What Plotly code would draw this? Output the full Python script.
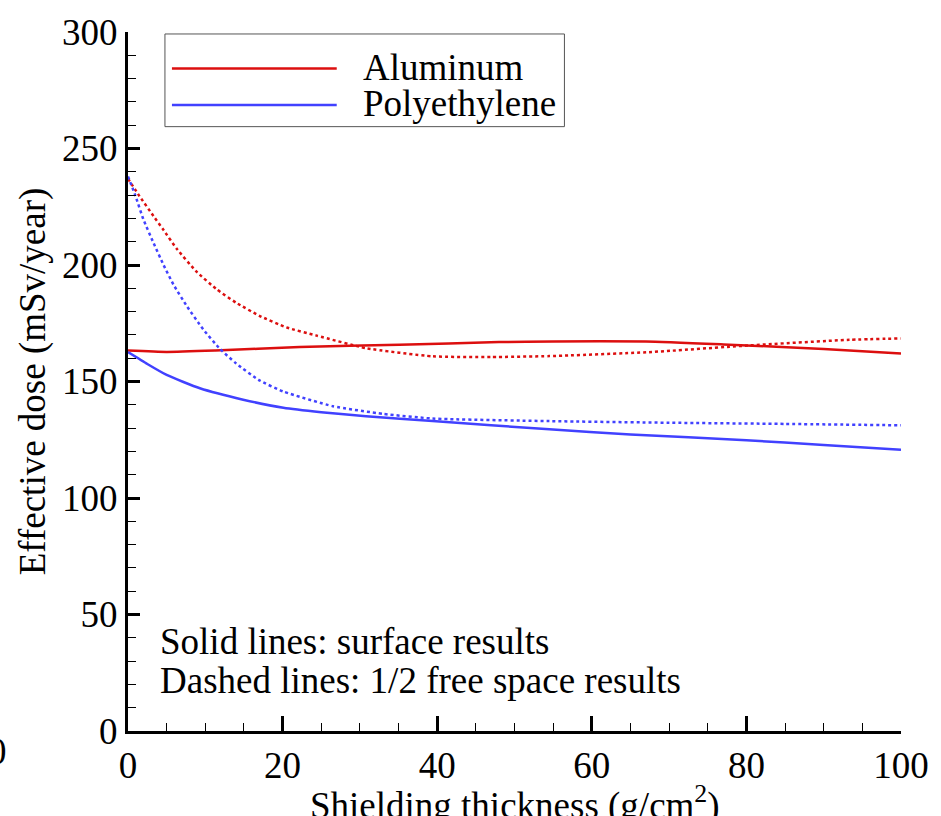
import plotly.graph_objects as go

# ---- data ----
al_surf_x = [0, 5, 11.3, 22.2, 35.1, 48, 55, 67, 77.8, 90, 100]
al_surf_y = [163.3, 162.7, 163.3, 164.8, 165.8, 166.9, 167.2, 167.2, 165.8, 164.0, 162.0]

al_fs_x = [0, 1.5, 3.3, 4.6, 6.3, 8.9, 11.5, 14, 17, 20.5, 24.4, 30.8, 39.4, 47, 54.5, 67.4, 80.4, 93.3, 100]
al_fs_y = [237, 229.5, 221, 215, 207, 197, 189.5, 183.8, 178.2, 173.2, 169.7, 164.3, 160.8, 160.5, 160.9, 162.6, 165.5, 167.9, 168.5]

pe_surf_x = [0, 2.5, 5, 9.3, 14.9, 20.1, 25, 30.8, 39.4, 54.5, 65, 80, 90, 100]
pe_surf_y = [162.6, 157.5, 152.8, 147.1, 142.2, 138.7, 136.8, 135.1, 133.0, 129.5, 127.3, 124.8, 122.8, 120.7]

pe_fs_x = [0, 0.9, 2, 3.3, 4.6, 5.9, 7.6, 9.7, 11.9, 14, 17, 20.1, 26.5, 33, 39.4, 54.5, 70, 85, 100]
pe_fs_y = [238, 230.3, 219.5, 209.5, 200, 191.5, 182.4, 172.5, 164, 157.7, 150.5, 145.7, 139.4, 136.1, 134.1, 133.0, 132.3, 131.8, 131.2]

legend_names = ["Aluminum", "Polyethylene"]
note_lines = ["Solid lines: surface results", "Dashed lines: 1/2 free space results"]

RED = "rgb(220,15,15)"
BLUE = "rgb(65,65,255)"
FONT = "Liberation Serif"

W, H = 941, 816
L, R, T, B = 128, 39, 22, 85
PW, PH = W - L - R, H - T - B

def px(x):
    return (x - L) / PW

def py(y):
    return (H - B - y) / PH

fig = go.Figure()
fig.add_trace(go.Scatter(x=al_surf_x, y=al_surf_y, mode="lines", name=legend_names[0],
                         line=dict(color=RED, width=2.5, shape="spline", smoothing=0.5), showlegend=False))
fig.add_trace(go.Scatter(x=pe_surf_x, y=pe_surf_y, mode="lines", name=legend_names[1],
                         line=dict(color=BLUE, width=2.5, shape="spline", smoothing=0.5), showlegend=False))
fig.add_trace(go.Scatter(x=al_fs_x, y=al_fs_y, mode="lines", name=legend_names[0] + " (1/2 free space)",
                         line=dict(color=RED, width=2.5, dash="3px,3px", shape="spline", smoothing=0.5), showlegend=False))
fig.add_trace(go.Scatter(x=pe_fs_x, y=pe_fs_y, mode="lines", name=legend_names[1] + " (1/2 free space)",
                         line=dict(color=BLUE, width=2.5, dash="3px,3px", shape="spline", smoothing=0.5), showlegend=False))

shapes = [
    # legend box
    dict(type="rect", xref="paper", yref="paper", x0=px(165), x1=px(565), y0=py(118), y1=py(24),
         line=dict(color="#555", width=1), fillcolor="white", layer="above"),
    dict(type="line", xref="paper", yref="paper", x0=px(172), x1=px(337), y0=py(59), y1=py(59),
         line=dict(color=RED, width=2.5), layer="above"),
    dict(type="line", xref="paper", yref="paper", x0=px(172), x1=px(337), y0=py(96), y1=py(96),
         line=dict(color=BLUE, width=2.5), layer="above"),
]

annotations = [
    dict(text=legend_names[0], xref="paper", yref="paper", x=px(361), y=py(58), xanchor="left", yanchor="middle",
         showarrow=False, font=dict(family=FONT, size=37, color="black")),
    dict(text=legend_names[1], xref="paper", yref="paper", x=px(361), y=py(95), xanchor="left", yanchor="middle",
         showarrow=False, font=dict(family=FONT, size=37, color="black")),
    dict(text=note_lines[0], xref="paper", yref="paper", x=px(158), y=py(640), xanchor="left", yanchor="middle",
         showarrow=False, font=dict(family=FONT, size=37, color="black")),
    dict(text=note_lines[1], xref="paper", yref="paper", x=px(158), y=py(680), xanchor="left", yanchor="middle",
         showarrow=False, font=dict(family=FONT, size=37, color="black")),
    # stray partial label at the left edge
    dict(text="0", xref="paper", yref="paper", x=px(-3), y=py(752), xanchor="center", yanchor="middle",
         showarrow=False, font=dict(family=FONT, size=37, color="black")),
    # x axis title (partly cut off by the page edge)
    dict(text="Shielding thickness (g/cm<sup>2</sup>)", xref="paper", yref="paper", x=0.5, y=py(804),
         xanchor="center", yanchor="middle", showarrow=False, font=dict(family=FONT, size=37, color="black")),
]

fig.update_layout(
    width=W, height=H,
    margin=dict(l=L, r=R, t=T, b=B, pad=0),
    paper_bgcolor="white", plot_bgcolor="white",
    font=dict(family=FONT, size=37, color="black"),
    shapes=shapes, annotations=annotations,
    showlegend=False,
)
fig.update_xaxes(
    range=[0, 100], dtick=20, tick0=0,
    showline=True, linecolor="black", linewidth=3, mirror=False,
    ticks="inside", ticklen=15, tickwidth=3, tickcolor="black",
    minor=dict(dtick=5, ticks="inside", ticklen=8, tickwidth=1, tickcolor="black"),
    showgrid=False, zeroline=False,
    tickfont=dict(family=FONT, size=37, color="black"),
)
fig.update_yaxes(
    range=[0, 300], dtick=50, tick0=0,
    showline=True, linecolor="black", linewidth=3, mirror=False,
    ticks="inside", ticklen=12, tickwidth=3, tickcolor="black",
    minor=dict(dtick=10, ticks="inside", ticklen=8, tickwidth=1, tickcolor="black"),
    showgrid=False, zeroline=False,
    tickfont=dict(family=FONT, size=37, color="black"),
    title=dict(text="Effective dose (mSv/year)", font=dict(family=FONT, size=37, color="black"), standoff=6),
)

fig.write_html("out.html")
